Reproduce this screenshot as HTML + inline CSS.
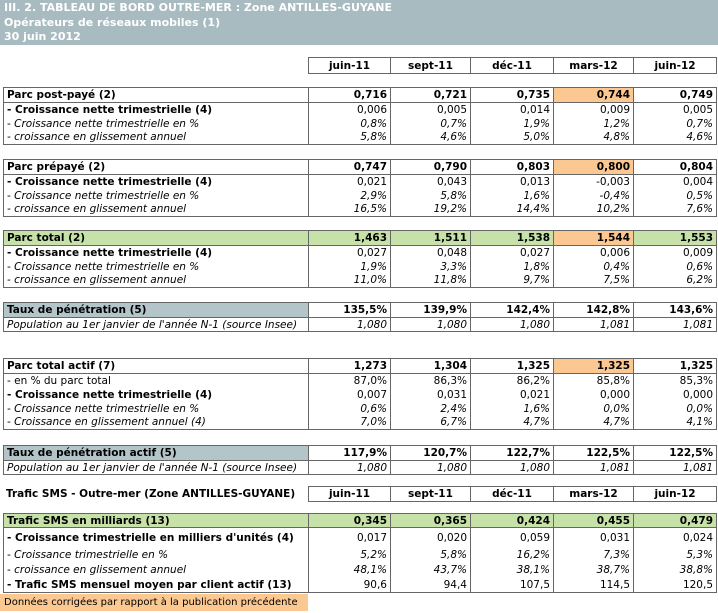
<!DOCTYPE html>
<html><head><meta charset="utf-8"><style>
body{margin:0;width:718px;height:613px;background:#fff;position:relative;overflow:hidden;font-family:"DejaVu Sans","Liberation Sans",sans-serif;font-size:10.5px;color:#000}
.title{position:absolute;left:0;top:0;width:718px;height:45px;background:#a8bbc0;color:#fff;font-weight:bold;font-size:11px;line-height:14.5px;padding-left:4px;box-sizing:border-box;padding-top:1px}
table{position:absolute;left:3px;border-collapse:collapse;table-layout:fixed;width:713px}
td{padding:0 3px;white-space:nowrap;overflow:hidden;border-left:1px solid #666;border-right:1px solid #666}
td.n{text-align:right}
table.d{border:1px solid #666}
tr.h td{border-bottom:1px solid #666;font-weight:bold}
.b{font-weight:bold}.i{font-style:italic}
.or{background:#fbc892}.gr{background:#c6e2a8}.bl{background:#b3c5c9}
table.hd{left:308px;width:408px}
table.hd td{border:1px solid #666;text-align:center;font-weight:bold}
</style></head><body>
<div class="title">III. 2. TABLEAU DE BORD OUTRE-MER : Zone ANTILLES-GUYANE<br>Opérateurs de réseaux mobiles (1)<br>30 juin 2012</div>

<table class="hd" style="top:57px"><colgroup><col style="width:82px"><col style="width:80px"><col style="width:83px"><col style="width:80px"><col style="width:83px"></colgroup>
<tr style="height:16px"><td>juin-11</td><td>sept-11</td><td>déc-11</td><td>mars-12</td><td>juin-12</td></tr></table>

<table class="d" style="top:87px"><colgroup><col style="width:305px"><col style="width:82px"><col style="width:80px"><col style="width:83px"><col style="width:80px"><col style="width:83px"></colgroup>
<tr class="h" style="height:15px"><td>Parc post-payé (2)</td><td class="n">0,716</td><td class="n">0,721</td><td class="n">0,735</td><td class="n or">0,744</td><td class="n">0,749</td></tr>
<tr style="height:14px"><td class="b">- Croissance nette trimestrielle (4)</td><td class="n">0,006</td><td class="n">0,005</td><td class="n">0,014</td><td class="n">0,009</td><td class="n">0,005</td></tr>
<tr style="height:14px" class="i"><td>- Croissance nette trimestrielle en %</td><td class="n">0,8%</td><td class="n">0,7%</td><td class="n">1,9%</td><td class="n">1,2%</td><td class="n">0,7%</td></tr>
<tr style="height:14px" class="i"><td>- croissance en glissement annuel</td><td class="n">5,8%</td><td class="n">4,6%</td><td class="n">5,0%</td><td class="n">4,8%</td><td class="n">4,6%</td></tr>
</table>

<table class="d" style="top:159px"><colgroup><col style="width:305px"><col style="width:82px"><col style="width:80px"><col style="width:83px"><col style="width:80px"><col style="width:83px"></colgroup>
<tr class="h" style="height:15px"><td>Parc prépayé (2)</td><td class="n">0,747</td><td class="n">0,790</td><td class="n">0,803</td><td class="n or">0,800</td><td class="n">0,804</td></tr>
<tr style="height:14px"><td class="b">- Croissance nette trimestrielle (4)</td><td class="n">0,021</td><td class="n">0,043</td><td class="n">0,013</td><td class="n">-0,003</td><td class="n">0,004</td></tr>
<tr style="height:14px" class="i"><td>- Croissance nette trimestrielle en %</td><td class="n">2,9%</td><td class="n">5,8%</td><td class="n">1,6%</td><td class="n">-0,4%</td><td class="n">0,5%</td></tr>
<tr style="height:14px" class="i"><td>- croissance en glissement annuel</td><td class="n">16,5%</td><td class="n">19,2%</td><td class="n">14,4%</td><td class="n">10,2%</td><td class="n">7,6%</td></tr>
</table>

<table class="d" style="top:230px"><colgroup><col style="width:305px"><col style="width:82px"><col style="width:80px"><col style="width:83px"><col style="width:80px"><col style="width:83px"></colgroup>
<tr class="h gr" style="height:15px"><td>Parc total (2)</td><td class="n">1,463</td><td class="n">1,511</td><td class="n">1,538</td><td class="n or">1,544</td><td class="n">1,553</td></tr>
<tr style="height:14px"><td class="b">- Croissance nette trimestrielle (4)</td><td class="n">0,027</td><td class="n">0,048</td><td class="n">0,027</td><td class="n">0,006</td><td class="n">0,009</td></tr>
<tr style="height:14px" class="i"><td>- Croissance nette trimestrielle en %</td><td class="n">1,9%</td><td class="n">3,3%</td><td class="n">1,8%</td><td class="n">0,4%</td><td class="n">0,6%</td></tr>
<tr style="height:14px" class="i"><td>- croissance en glissement annuel</td><td class="n">11,0%</td><td class="n">11,8%</td><td class="n">9,7%</td><td class="n">7,5%</td><td class="n">6,2%</td></tr>
</table>

<table class="d" style="top:302px"><colgroup><col style="width:305px"><col style="width:82px"><col style="width:80px"><col style="width:83px"><col style="width:80px"><col style="width:83px"></colgroup>
<tr class="h" style="height:15px"><td class="bl">Taux de pénétration (5)</td><td class="n">135,5%</td><td class="n">139,9%</td><td class="n">142,4%</td><td class="n">142,8%</td><td class="n">143,6%</td></tr>
<tr style="height:14px" class="i"><td>Population au 1er janvier de l'année N-1 (source Insee)</td><td class="n">1,080</td><td class="n">1,080</td><td class="n">1,080</td><td class="n">1,081</td><td class="n">1,081</td></tr>
</table>

<table class="d" style="top:358px"><colgroup><col style="width:305px"><col style="width:82px"><col style="width:80px"><col style="width:83px"><col style="width:80px"><col style="width:83px"></colgroup>
<tr class="h" style="height:15px"><td>Parc total actif (7)</td><td class="n">1,273</td><td class="n">1,304</td><td class="n">1,325</td><td class="n or">1,325</td><td class="n">1,325</td></tr>
<tr style="height:14px"><td>- en % du parc total</td><td class="n">87,0%</td><td class="n">86,3%</td><td class="n">86,2%</td><td class="n">85,8%</td><td class="n">85,3%</td></tr>
<tr style="height:14px"><td class="b">- Croissance nette trimestrielle (4)</td><td class="n">0,007</td><td class="n">0,031</td><td class="n">0,021</td><td class="n">0,000</td><td class="n">0,000</td></tr>
<tr style="height:14px" class="i"><td>- Croissance nette trimestrielle en %</td><td class="n">0,6%</td><td class="n">2,4%</td><td class="n">1,6%</td><td class="n">0,0%</td><td class="n">0,0%</td></tr>
<tr style="height:14px" class="i"><td>- Croissance en glissement annuel (4)</td><td class="n">7,0%</td><td class="n">6,7%</td><td class="n">4,7%</td><td class="n">4,7%</td><td class="n">4,1%</td></tr>
</table>

<table class="d" style="top:445px"><colgroup><col style="width:305px"><col style="width:82px"><col style="width:80px"><col style="width:83px"><col style="width:80px"><col style="width:83px"></colgroup>
<tr class="h" style="height:15px"><td class="bl">Taux de pénétration actif (5)</td><td class="n">117,9%</td><td class="n">120,7%</td><td class="n">122,7%</td><td class="n">122,5%</td><td class="n">122,5%</td></tr>
<tr style="height:14px" class="i"><td>Population au 1er janvier de l'année N-1 (source Insee)</td><td class="n">1,080</td><td class="n">1,080</td><td class="n">1,080</td><td class="n">1,081</td><td class="n">1,081</td></tr>
</table>

<div class="b" style="position:absolute;left:6px;top:487px;line-height:14px">Trafic SMS - Outre-mer (Zone ANTILLES-GUYANE)</div>
<table class="hd" style="top:486px"><colgroup><col style="width:82px"><col style="width:80px"><col style="width:83px"><col style="width:80px"><col style="width:83px"></colgroup>
<tr style="height:15px"><td>juin-11</td><td>sept-11</td><td>déc-11</td><td>mars-12</td><td>juin-12</td></tr></table>

<table class="d" style="top:513px"><colgroup><col style="width:305px"><col style="width:82px"><col style="width:80px"><col style="width:83px"><col style="width:80px"><col style="width:83px"></colgroup>
<tr class="h gr" style="height:14px"><td>Trafic SMS en milliards (13)</td><td class="n">0,345</td><td class="n">0,365</td><td class="n">0,424</td><td class="n">0,455</td><td class="n">0,479</td></tr>
<tr style="height:20px"><td class="b">- Croissance trimestrielle en milliers d'unités (4)</td><td class="n">0,017</td><td class="n">0,020</td><td class="n">0,059</td><td class="n">0,031</td><td class="n">0,024</td></tr>
<tr style="height:15px" class="i"><td>- Croissance trimestrielle en %</td><td class="n">5,2%</td><td class="n">5,8%</td><td class="n">16,2%</td><td class="n">7,3%</td><td class="n">5,3%</td></tr>
<tr style="height:15px" class="i"><td>- croissance en glissement annuel</td><td class="n">48,1%</td><td class="n">43,7%</td><td class="n">38,1%</td><td class="n">38,7%</td><td class="n">38,8%</td></tr>
<tr style="height:15px"><td class="b">- Trafic SMS mensuel moyen par client actif (13)</td><td class="n">90,6</td><td class="n">94,4</td><td class="n">107,5</td><td class="n">114,5</td><td class="n">120,5</td></tr>
</table>

<div style="position:absolute;left:0;top:594px;width:308px;height:17px;background:#fbc892;line-height:17px;padding-left:4px;box-sizing:border-box;white-space:nowrap;overflow:hidden;font-size:10px">Données corrigées par rapport à la publication précédente</div>
</body></html>
